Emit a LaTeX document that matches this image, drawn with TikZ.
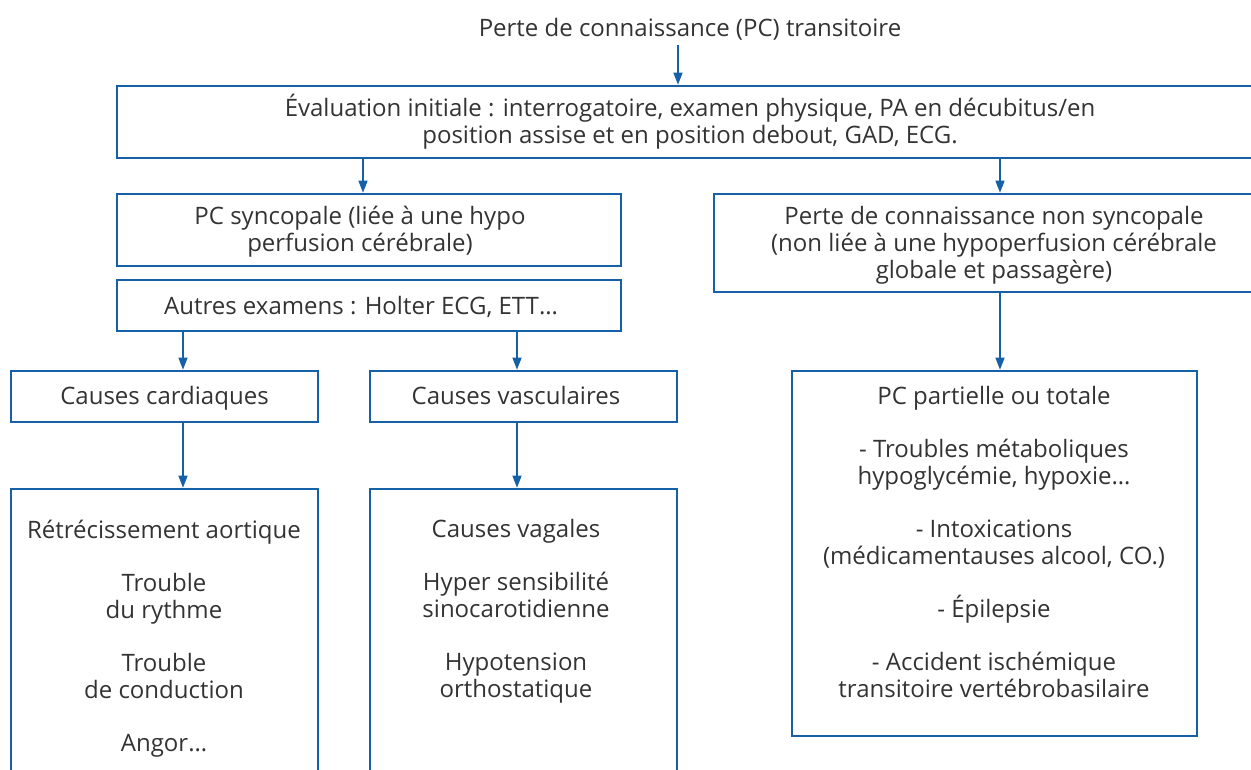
\documentclass[tikz,border=0pt]{standalone}
\usepackage{fontspec}
\setmainfont{Open Sans}
\usetikzlibrary{arrows.meta}
\definecolor{framecol}{RGB}{22,96,168}
\definecolor{inkcol}{RGB}{51,51,51}
\begin{document}
\begin{tikzpicture}[x=1pt,y=-1pt,
  box/.style={draw=framecol, line width=2.6pt, rectangle, inner sep=0pt},
  txt/.style={text=inkcol, font=\fontsize{24}{27}\selectfont, align=center, inner sep=0pt, anchor=base},
  arr/.style={draw=framecol, line width=1.4pt, -{Triangle[width=9pt,length=12pt]}}]
\useasboundingbox (0,0) rectangle (1251,769);
\clip (0,0) rectangle (1251,769);

% frames
\node[box, minimum width=1145pt, minimum height=72pt] (eval) at (689.5,122) {};
\node[box, minimum width=504pt, minimum height=72pt] (syn) at (369,230) {};
\node[box, minimum width=504pt, minimum height=51pt] (autres) at (369,305.5) {};
\node[box, minimum width=562pt, minimum height=98pt] (nonsyn) at (995,243) {};
\node[box, minimum width=307pt, minimum height=51pt] (card) at (164.5,396.5) {};
\node[box, minimum width=307pt, minimum height=51pt] (vasc) at (523.5,396.5) {};
\node[box, minimum width=307pt, minimum height=311pt] (carddet) at (164.5,644.5) {};
\node[box, minimum width=307pt, minimum height=311pt] (vascdet) at (523.5,644.5) {};
\node[box, minimum width=405pt, minimum height=365pt] (partial) at (994.5,553.5) {};

% texts (base = baseline of the last line)
\node[txt] (title) at (690,36) {Perte de connaissance (PC) transitoire};
\node[txt] (evaltxt) at (690,143) {Évaluation initiale : interrogatoire, examen physique, PA en décubitus/en\\position assise et en position debout, GAD, ECG.};
\node[txt] (syntxt) at (360,251) {PC syncopale (liée à une hypo\\perfusion cérébrale)};
\node[txt] (autrestxt) at (361,314) {Autres examens : Holter ECG, ETT…};
\node[txt] (nonsyntxt) at (994,278) {Perte de connaissance non syncopale\\(non liée à une hypoperfusion cérébrale\\globale et passagère)};
\node[txt] (cardtxt) at (164.5,404) {Causes cardiaques};
\node[txt] (vasctxt) at (516,404) {Causes vasculaires};
\node[txt] (carddettxt) at (164,751) {Rétrécissement aortique\\[26pt]Trouble\\du rythme\\[26pt]Trouble\\de conduction\\[26pt]Angor…};
\node[txt] (vascdettxt) at (516,697) {Causes vagales\\[26pt]Hyper sensibilité\\sinocarotidienne\\[26pt]Hypotension\\orthostatique};
\node[txt] (partialtxt) at (994,697) {PC partielle ou totale\\[26pt]- Troubles métaboliques\\hypoglycémie, hypoxie…\\[26pt]- Intoxications\\(médicamentauses alcool, CO.)\\[26pt]- Épilepsie\\[26pt]- Accident ischémique\\transitoire vertébrobasilaire};

% connector columns
\coordinate (cTop) at (678,0);
\coordinate (cLeft) at (363,0);
\coordinate (cRight) at (1000,0);
\coordinate (cCard) at (183,0);
\coordinate (cVasc) at (517,0);
\coordinate (titleBottom) at (678,45);

% connectors
\draw[arr] (titleBottom) -- (eval.north -| cTop);
\draw[arr] (eval.south -| cLeft) -- (syn.north -| cLeft);
\draw[arr] (eval.south -| cRight) -- (nonsyn.north -| cRight);
\draw[arr] (autres.south -| cCard) -- (card.north -| cCard);
\draw[arr] (autres.south -| cVasc) -- (vasc.north -| cVasc);
\draw[arr] (nonsyn.south -| cRight) -- (partial.north -| cRight);
\draw[arr] (card.south -| cCard) -- (carddet.north -| cCard);
\draw[arr] (vasc.south -| cVasc) -- (vascdet.north -| cVasc);
\end{tikzpicture}
\end{document}
